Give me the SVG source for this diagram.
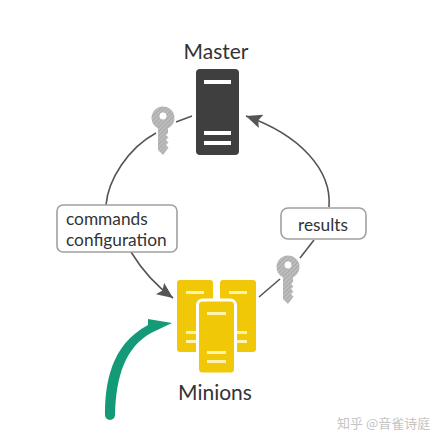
<svg xmlns="http://www.w3.org/2000/svg" width="444" height="442" viewBox="0 0 444 442">
<style>
text{font-family:Lato,"Liberation Sans",sans-serif;fill:#333}
.t{font-size:21px;text-anchor:middle}
.l{font-size:17.300px}
.c{fill:none;stroke:#555;stroke-width:1.600}
.box{fill:#fff;stroke:#a0a0a0;stroke-width:1.600}
.y{fill:#f0c808}
.k{fill:url(#h)}
.b{fill:#fff3b0}
</style>
<defs>
<marker id="a" markerUnits="userSpaceOnUse" markerWidth="18" markerHeight="16" refX="16" refY="7" orient="auto"><path d="M0 0L16 7L0 14L3 7Z" fill="#555"/></marker>
<pattern id="h" width="3" height="3" patternUnits="userSpaceOnUse" patternTransform="rotate(-45)"><rect width="3" height="3" fill="#bdbdbd"/><rect width="3" height="1" fill="#a8a8a8"/></pattern>
<g id="key"><path d="M0-11.500A11.500 11.500 0 0 1 5 10.400V15L3 17 5.500 19.500 3 22 5.500 24.500 3 27 5.500 29.500 0 37-5 32V10.400A11.500 11.500 0 0 1 0-11.500Z" class="k"/><circle cy="-2" r="3.400" fill="#fff"/></g>
</defs>
<g id="connectors">
<path class="c" d="M106 205C108 180 128 148 156 133"/>
<path class="c" d="M176 122L192 116"/>
<path class="c" d="M329 207C332 170 300 135 246 116" marker-end="url(#a)"/>
<path class="c" d="M131 252C142 270 155 285 173 298" marker-end="url(#a)"/>
<path class="c" d="M314 240L300 258"/>
<path class="c" d="M259 297L280 279"/>
<path fill="#159a78" d="M105 415C105 385 110 345 148 325L148 319L172 323L151 333C126 347 116 375 115 415A5 5 0 0 1 105 415Z"/>
</g>
<g id="master">
<text class="t" x="216" y="59">Master</text>
<rect x="196" y="69" width="43" height="86" rx="4" fill="#3f3f3f"/>
<rect x="204" y="80" width="27" height="4" fill="#fff"/>
<rect x="204" y="131" width="27" height="4" fill="#fff"/>
<rect x="204" y="141" width="27" height="4" fill="#fff"/>
</g>
<g id="key-master"><use href="#key" x="163" y="118"/></g>
<g id="label-commands">
<rect class="box" x="57" y="205" width="120" height="47" rx="6"/>
<text class="l" x="66" y="225">commands</text>
<text class="l" x="66" y="246">configuration</text>
</g>
<g id="label-results">
<rect class="box" x="281" y="208" width="85" height="31" rx="7"/>
<text class="l" x="323" y="231" text-anchor="middle">results</text>
</g>
<g id="key-minions"><use href="#key" x="288" y="267"/></g>
<g id="minions">
<rect class="y" x="177" y="280" width="36" height="72" rx="3"/>
<rect class="y" x="220" y="280" width="36" height="72" rx="3"/>
<rect class="b" x="186" y="291" width="18" height="3"/>
<rect class="b" x="229" y="291" width="18" height="3"/>
<rect class="b" x="186" y="331" width="18" height="3"/>
<rect class="b" x="186" y="340" width="18" height="3"/>
<rect class="b" x="229" y="331" width="18" height="3"/>
<rect class="b" x="229" y="340" width="18" height="3"/>
<rect class="y" x="197.500" y="300" width="38" height="74" rx="5" stroke="#fff" stroke-width="3"/>
<rect class="b" x="207" y="312" width="19" height="3"/>
<rect class="b" x="207" y="351" width="19" height="3"/>
<rect class="b" x="207" y="360" width="19" height="3"/>
<text class="t" x="215" y="400">Minions</text>
</g>
<text x="337" y="428" font-size="13" style="font-family:'Noto Sans CJK SC',sans-serif;fill:#c4c4c4">知乎 @音雀诗庭</text>
</svg>
